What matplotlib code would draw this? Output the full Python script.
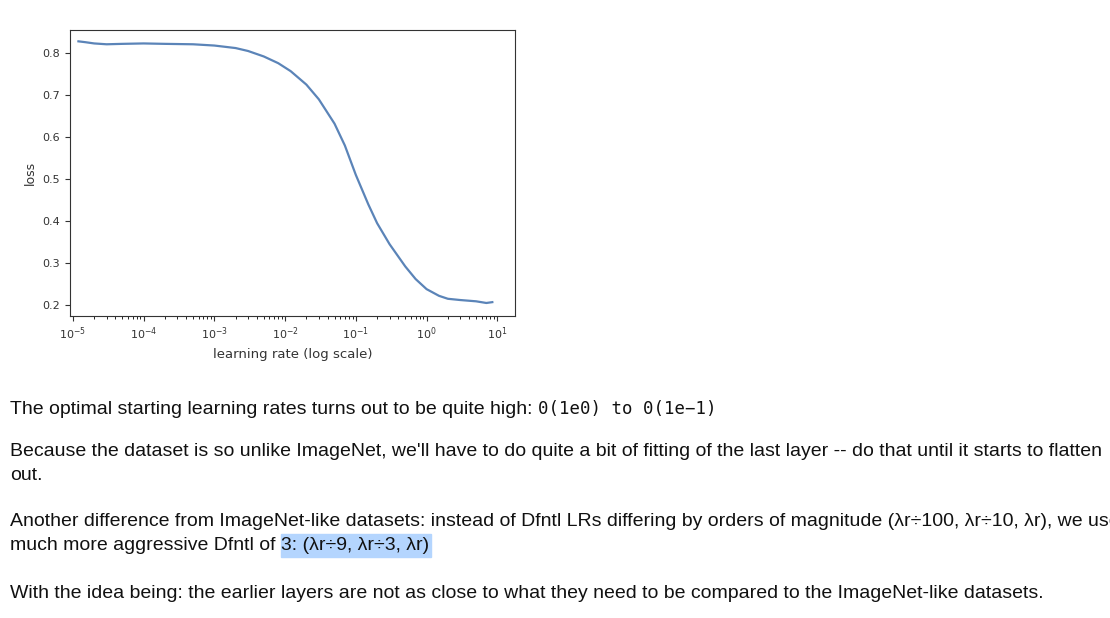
import matplotlib
matplotlib.use("Agg")
import matplotlib.pyplot as plt
import numpy as np
from matplotlib.patches import Rectangle

lr = [1.2e-5, 1.5e-5, 2e-5, 3e-5, 5e-5, 1e-4, 2e-4, 5e-4, 1e-3, 2e-3, 3e-3, 5e-3, 8e-3,
      1.2e-2, 2e-2, 3e-2, 5e-2, 7e-2, 1e-1, 1.5e-1, 2e-1, 3e-1, 5e-1, 7e-1, 1e0, 1.5e0,
      2e0, 3e0, 5e0, 7e0, 8.5e0]
loss = [0.828, 0.826, 0.823, 0.821, 0.822, 0.823, 0.822, 0.821, 0.818, 0.812, 0.805, 0.792, 0.776,
        0.757, 0.725, 0.690, 0.632, 0.580, 0.510, 0.440, 0.395, 0.345, 0.292, 0.262, 0.238, 0.222,
        0.215, 0.212, 0.209, 0.205, 0.207]
yticks = [0.2, 0.3, 0.4, 0.5, 0.6, 0.7, 0.8]

W, H = 1110, 618
fig = plt.figure(figsize=(W/100, H/100), dpi=100)
ax = fig.add_axes([70/W, 1-316/H, 445/W, 286/H])
ax.plot(lr, loss, color="#5b84b8", lw=1.6)
ax.set_xscale("log")
ax.set_xlim(10**-5.04, 10**1.25)
ax.set_ylim(0.174, 0.855)
ax.set_yticks(yticks)
ax.set_ylabel("loss", fontsize=9, color="#333")
ax.set_xlabel("learning rate (log scale)", fontsize=9.5, color="#333")
ax.tick_params(labelsize=8, colors="#333")
for s in ax.spines.values():
    s.set_color("#333")

def px(x, y):
    return x/W, 1-y/H

fs = 14
fam = "Liberation Sans"
lines = [
    (10, 409, "The optimal starting learning rates turns out to be quite high: "),
    (10, 452, "Because the dataset is so unlike ImageNet, we'll have to do quite a bit of fitting of the last layer -- do that until it starts to flatten"),
    (10, 476, "out."),
    (10, 522, "Another difference from ImageNet-like datasets: instead of Dfntl LRs differing by orders of magnitude (λr÷100, λr÷10, λr), we use a"),
    (10, 546, "much more aggressive Dfntl of 3: (λr÷9, λr÷3, λr)"),
    (10, 593, "With the idea being: the earlier layers are not as close to what they need to be compared to the ImageNet-like datasets."),
]
objs = []
for x, y, t in lines:
    objs.append(fig.text(*px(x, y), t, fontsize=fs, family=fam, va="center", color="#111"))

r = fig.canvas.get_renderer()
def width(t):
    tmp = fig.text(0, 0, t, fontsize=fs, family=fam)
    w = tmp.get_window_extent(r).width
    tmp.remove()
    return w

x0 = 10 + width("much more aggressive Dfntl of ")
x1 = 10 + width("much more aggressive Dfntl of 3: (λr÷9, λr÷3, λr)")
fig.patches.append(Rectangle(px(x0, 557), (x1 - x0 + 2)/W, 23/H, transform=fig.transFigure,
                             color="#b4d5fe", zorder=-1))
xm = 10 + width("The optimal starting learning rates turns out to be quite high: ")
fig.text(*px(xm, 409), "0(1e0) to 0(1e−1)", fontsize=12.5, family="DejaVu Sans Mono",
         va="center", color="#111")
fig.savefig("out.png", dpi=100)
